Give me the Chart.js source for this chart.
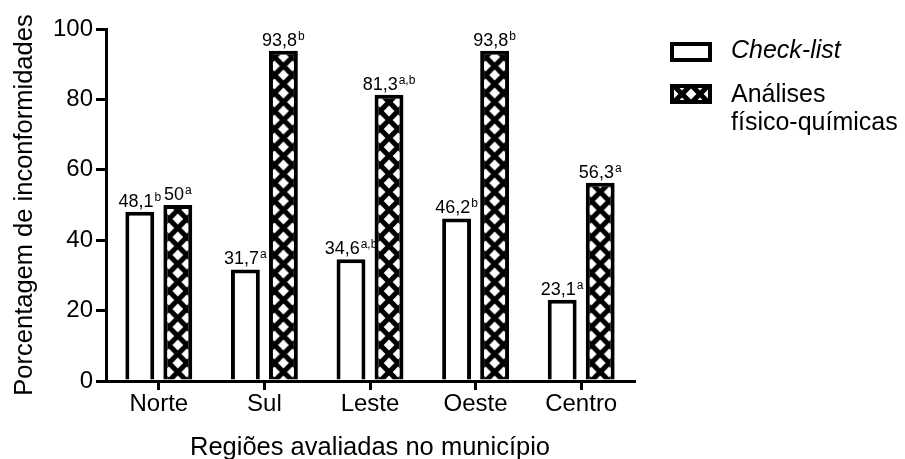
<!DOCTYPE html>
<html>
<head>
<meta charset="utf-8">
<script src="https://cdn.jsdelivr.net/npm/chart.js@4/dist/chart.umd.min.js"></script>
<style>
  html, body { margin: 0; padding: 0; background: #fff; }
  canvas { display: block; }
</style>
</head>
<body>
<canvas id="grafico" width="905" height="459"></canvas>
<script>
// Regiões do município e percentuais de inconformidades
const regioes = ['Norte', 'Sul', 'Leste', 'Oeste', 'Centro'];
const checklist = [48.1, 31.7, 34.6, 46.2, 23.1];
const analises = [50, 93.8, 81.3, 93.8, 56.3];
// Letras de significância exibidas sobre cada barra
const letrasChecklist = ['b', 'a', 'a,b', 'b', 'a'];
const letrasAnalises = ['a', 'b', 'a,b', 'b', 'a'];
const nomeChecklist = 'Check-list';
const nomeAnalises = ['Análises', 'físico-químicas'];
const yTicks = [0, 20, 40, 60, 80, 100];

const FONTE = "'Liberation Sans', Arial, sans-serif";
const CAT_PCT = 0.72;
const BAR_PCT = 0.76;

// Trama quadriculada: fundo preto com losangos brancos
const PW = 18, PH = 18;
const tile = document.createElement('canvas');
tile.width = PW; tile.height = PH;
(function () {
  const t = tile.getContext('2d');
  t.fillStyle = '#000';
  t.fillRect(0, 0, PW, PH);
  t.fillStyle = '#fff';
  const rx = 5.4, ry = 5.4;
  const centros = [[PW / 2, 0], [PW / 2, PH], [0, PH / 2], [PW, PH / 2]];
  centros.forEach(([cx, cy]) => {
    t.beginPath();
    t.moveTo(cx, cy - ry);
    t.lineTo(cx + rx, cy);
    t.lineTo(cx, cy + ry);
    t.lineTo(cx - rx, cy);
    t.closePath();
    t.fill();
  });
})();

function trama(ctx, cx, cy) {
  const p = ctx.createPattern(tile, 'repeat');
  p.setTransform(new DOMMatrix().translate(cx - PW / 2, cy));
  return p;
}

const canvas = document.getElementById('grafico');
const ctx2d = canvas.getContext('2d');

function tramaBarra(context) {
  const chart = context.chart;
  const xs = chart.scales && chart.scales.x;
  if (!xs || context.dataIndex === undefined) return trama(ctx2d, 0, 0);
  const centro = xs.getPixelForValue(context.dataIndex);
  const slot = (xs.width / regioes.length) * CAT_PCT / 2;
  return trama(ctx2d, centro + slot / 2, chart.chartArea ? chart.chartArea.bottom : 0);
}

// Rótulos de valor com letra sobrescrita
const rotulos = {
  id: 'rotulos',
  afterDatasetsDraw(chart) {
    const ctx = chart.ctx;
    const letras = [letrasChecklist, letrasAnalises];
    ctx.save();
    ctx.fillStyle = '#000';
    ctx.textBaseline = 'alphabetic';
    ctx.textAlign = 'left';
    chart.data.datasets.forEach((ds, di) => {
      chart.getDatasetMeta(di).data.forEach((bar, i) => {
        const num = String(ds.data[i]).replace('.', ',');
        const sup = letras[di][i];
        ctx.font = '18px ' + FONTE;
        const w1 = ctx.measureText(num).width;
        ctx.font = '12px ' + FONTE;
        const w2 = ctx.measureText(sup).width;
        const x0 = bar.x - (w1 + w2 + 1) / 2;
        const base = bar.y - 5;
        ctx.font = '18px ' + FONTE;
        ctx.fillText(num, x0, base);
        ctx.font = '12px ' + FONTE;
        ctx.fillText(sup, x0 + w1 + 1, base - 6);
      });
    });
    ctx.restore();
  }
};

// Legenda lateral com rótulo em duas linhas
const legenda = {
  id: 'legenda',
  afterDraw(chart) {
    const ctx = chart.ctx;
    const x = chart.chartArea.right + 36;
    const bw = 42, bh = 20;
    const itens = [
      { top: 42, fill: '#fff', linhas: [nomeChecklist], italico: true, base: 58 },
      { top: 84, fill: null, linhas: nomeAnalises, italico: false, base: 102 }
    ];
    ctx.save();
    itens.forEach(it => {
      ctx.fillStyle = it.fill || trama(ctx, x + bw / 2, it.top + bh / 2);
      ctx.fillRect(x, it.top, bw, bh);
      ctx.lineWidth = 4;
      ctx.strokeStyle = '#000';
      ctx.strokeRect(x + 2, it.top + 2, bw - 4, bh - 4);
      ctx.fillStyle = '#000';
      ctx.font = (it.italico ? 'italic ' : '') + '25px ' + FONTE;
      ctx.textBaseline = 'alphabetic';
      it.linhas.forEach((l, k) => ctx.fillText(l, x + 61, it.base + k * 28));
    });
    ctx.restore();
  }
};

new Chart(canvas, {
  type: 'bar',
  data: {
    labels: regioes,
    datasets: [
      {
        label: nomeChecklist,
        data: checklist,
        backgroundColor: '#fff',
        borderColor: '#000',
        borderWidth: 4,
        borderSkipped: 'start',
        categoryPercentage: CAT_PCT,
        barPercentage: BAR_PCT
      },
      {
        label: nomeAnalises.join(' '),
        data: analises,
        backgroundColor: tramaBarra,
        borderColor: '#000',
        borderWidth: 4,
        borderSkipped: 'start',
        categoryPercentage: CAT_PCT,
        barPercentage: BAR_PCT
      }
    ]
  },
  options: {
    responsive: false,
    animation: false,
    layout: { padding: { top: 29, right: 271, left: 0, bottom: 0 } },
    plugins: {
      legend: { display: false },
      tooltip: { enabled: false }
    },
    scales: {
      x: {
        border: { color: '#000', width: 3 },
        grid: { drawOnChartArea: false, offset: false, color: '#000', lineWidth: 3, tickLength: 9 },
        ticks: { color: '#000', font: { family: FONTE, size: 24 }, padding: 0 },
        title: {
          display: true,
          text: 'Regiões avaliadas no município',
          color: '#000',
          font: { family: FONTE, size: 25.5 },
          padding: { top: 0, bottom: -4 }
        },
        afterFit(scale) { scale.height = 78; }
      },
      y: {
        min: yTicks[0],
        max: yTicks[yTicks.length - 1],
        border: { color: '#000', width: 3 },
        grid: { drawOnChartArea: false, color: '#000', lineWidth: 3, tickLength: 10 },
        ticks: {
          stepSize: yTicks[1] - yTicks[0],
          color: '#000',
          font: { family: FONTE, size: 24 },
          padding: 3
        },
        title: {
          display: true,
          text: 'Porcentagem de inconformidades',
          color: '#000',
          font: { family: FONTE, size: 25.5 },
          padding: { top: 10, bottom: 0 }
        },
        afterFit(scale) { scale.width = 106; }
      }
    }
  },
  plugins: [rotulos, legenda]
});
</script>
</body>
</html>
